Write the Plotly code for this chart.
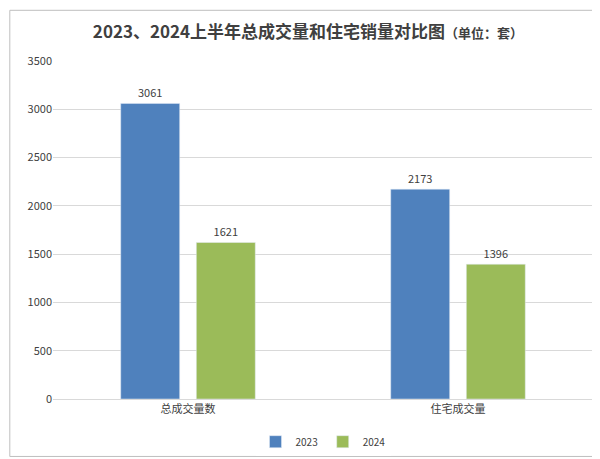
import plotly.graph_objects as go

categories = ["总成交量数", "住宅成交量"]
v2023 = [3061, 2173]
v2024 = [1621, 1396]

fig = go.Figure()
fig.add_trace(go.Bar(x=categories, y=v2023, name="2023", marker_color="#4F81BD",
                     text=v2023, textposition="outside", textfont=dict(size=11, color="#404040")))
fig.add_trace(go.Bar(x=categories, y=v2024, name="2024", marker_color="#9BBB59",
                     text=v2024, textposition="outside", textfont=dict(size=11, color="#404040")))

fig.update_layout(
    width=600, height=459,
    title=dict(text="<b>2023、2024上半年总成交量和住宅销量对比图</b><span style='font-size:13px'><b>（单位：套）</b></span>",
               x=0.5, y=0.96, font=dict(size=17, color="#404040")),
    font=dict(family="Noto Sans CJK SC, sans-serif", size=11, color="#404040"),
    barmode="group", bargap=0.44, bargroupgap=0.22,
    plot_bgcolor="white", paper_bgcolor="white",
    margin=dict(l=45, r=15, t=53, b=67),
    legend=dict(orientation="h", x=0.5, xanchor="center", y=-0.123, yanchor="middle",
                font=dict(size=10)),
    yaxis=dict(range=[0, 3500], dtick=500, gridcolor="#D9D9D9", zeroline=False,
               showline=False, tickfont=dict(size=11)),
    xaxis=dict(showline=True, linecolor="#D9D9D9", tickfont=dict(size=11), automargin=False),
    shapes=[dict(type="rect", xref="paper", yref="paper", x0=-0.08, x1=1.015, y0=-0.17, y1=1.15,
                 line=dict(color="#BFBFBF", width=1), layer="below")],
)
fig.write_html("out.html")
